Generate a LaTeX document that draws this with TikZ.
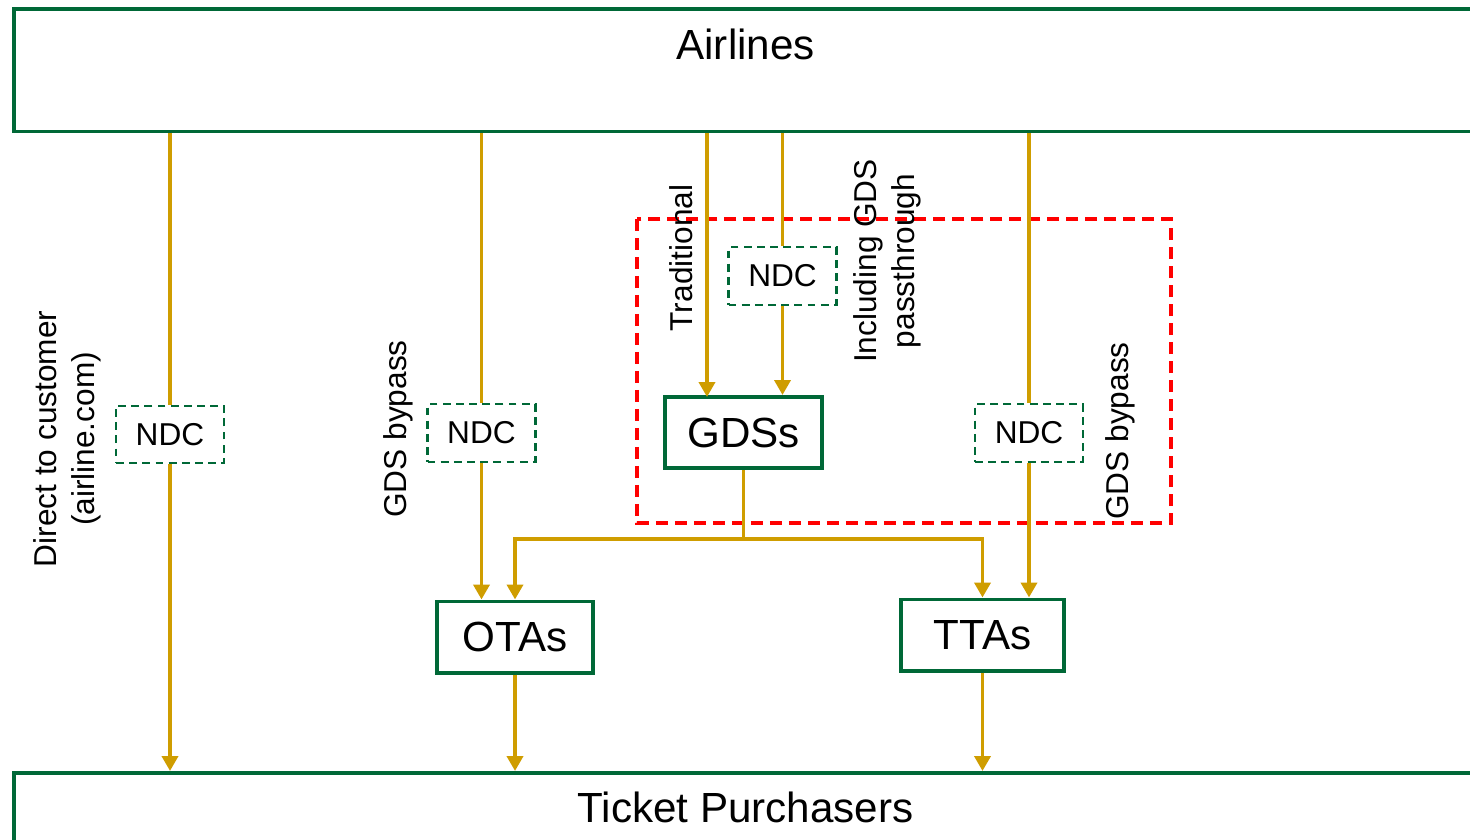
\documentclass[tikz,border=0pt]{standalone}
\usepackage{fontspec}
\setmainfont{Liberation Sans}
\usepackage{tikz}
\usetikzlibrary{calc, arrows.meta}
\definecolor{boxgreen}{RGB}{0,104,55}
\definecolor{flowgold}{RGB}{207,157,0}
\definecolor{zonered}{RGB}{255,0,0}

\begin{document}
\begin{tikzpicture}[x=0.02cm, y=-0.02cm,
  bigbox/.style={draw=boxgreen, line width=2pt, anchor=north west,
    minimum width=29.28cm, minimum height=2.46cm},
  chanbox/.style={draw=boxgreen, line width=2pt, font=\fontsize{24}{28}\selectfont,
    minimum height=1.43cm},
  ndcbox/.style={draw=boxgreen, line width=1.2pt, dash pattern=on 4.5pt off 3pt,
    font=\fontsize{18}{22}\selectfont, minimum width=2.16cm, minimum height=1.15cm},
  flow/.style={draw=flowgold, line width=2.2pt},
  flowarr/.style={flow, -{Triangle[length=0.3cm,width=0.32cm]}},
  sidelbl/.style={rotate=90, font=\fontsize{18}{21.5}\selectfont, align=center},
  zone/.style={draw=zonered, line width=2pt, dash pattern=on 0.24cm off 0.14cm}]
\useasboundingbox (0,0) rectangle (1470,839);
\clip (0,0) rectangle (1470,839);

% GDS area
\draw[zone] (637,219) rectangle (1171,523);

% top and bottom
\node[bigbox, label={[anchor=base, yshift=-1.06cm, font=\fontsize{24}{28}\selectfont]north:Airlines}] (air) at (12,7) {};
\node[bigbox, label={[anchor=base, yshift=-1.02cm, font=\fontsize{24}{28}\selectfont]north:Ticket Purchasers}] (tp) at (12,771) {};

% intermediaries
\node[chanbox, minimum width=3.14cm] (gds) at (743.5,432.5) {GDSs};
\node[chanbox, minimum width=3.12cm] (ota) at (515,637) {OTAs};
\node[chanbox, minimum width=3.26cm] (tta) at (982.5,635) {TTAs};

% NDC
\node[ndcbox] (ndcdirect) at (170,434.5) {NDC};
\node[ndcbox] (ndcota) at (481.5,433) {NDC};
\node[ndcbox] (ndcgds) at (782.5,276) {NDC};
\node[ndcbox] (ndctta) at (1029,433) {NDC};

\coordinate (tradin) at (707,397);
\coordinate (split) at (743.5,539);

% channels
\draw[flow] (air.south -| ndcdirect) -- (ndcdirect.north);
\draw[flowarr] (ndcdirect.south) -- (ndcdirect.south |- tp.north);
\draw[flow] (air.south -| ndcota) -- (ndcota.north);
\draw[flowarr] (ndcota.south) -- (ndcota.south |- ota.north);
\draw[flowarr] (air.south -| tradin) -- (tradin);
\draw[flow] (air.south -| ndcgds) -- (ndcgds.north);
\draw[flowarr] (ndcgds.south) -- (ndcgds.south |- gds.north);
\draw[flow] (air.south -| ndctta) -- (ndctta.north);
\draw[flowarr] (ndctta.south) -- (ndctta.south |- tta.north);
\draw[flow] (gds.south) -- (split);
\draw[flowarr] (split) -| (ota.north);
\draw[flowarr] (split) -| (tta.north);
\draw[flowarr] (ota.south) -- (ota.south |- tp.north);
\draw[flowarr] (tta.south) -- (tta.south |- tp.north);

% labels
\node[sidelbl] (directlbl) at (67,439) {Direct to customer\\(airline.com)};
\node[sidelbl] (otabypass) at (398,429) {GDS bypass};
\node[sidelbl] (tradlbl) at (681,258) {Traditional};
\node[sidelbl] (passlbl) at (887,261) {Including GDS\\passthrough};
\node[sidelbl] (ttabypass) at (1120,431) {GDS bypass};

\end{tikzpicture}
\end{document}
